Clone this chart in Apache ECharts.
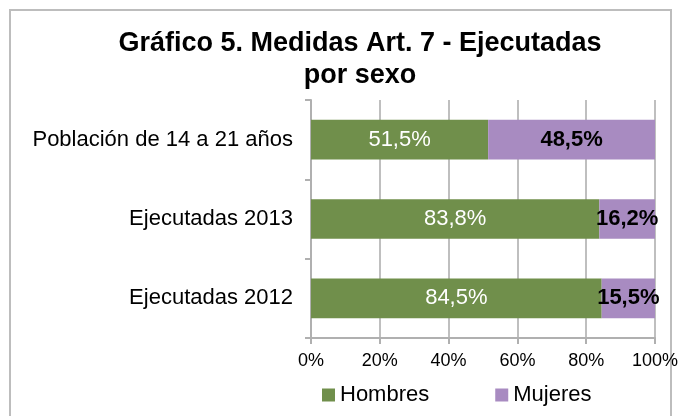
<!DOCTYPE html>
<html>
<head>
<meta charset="utf-8">
<script src="https://cdn.jsdelivr.net/npm/echarts@6/dist/echarts.min.js"></script>
<style>
  html, body { margin: 0; padding: 0; background: #fff; }
  #chart { width: 678px; height: 416px; }
</style>
</head>
<body>
<div id="chart"></div>
<script>
// datos
var categorias = ["Ejecutadas 2012", "Ejecutadas 2013", "Población de 14 a 21 años"];
var hombres = [84.5, 83.8, 51.5];
var mujeres = [15.5, 16.2, 48.5];
var ticksX = [0, 20, 40, 60, 80, 100];

var chart = echarts.init(document.getElementById("chart"));

function pct(p) {
  return p.value.toFixed(1).replace(".", ",") + "%";
}

var fuente = "Liberation Sans, Arial, sans-serif";

var option = {
  animation: false,
  backgroundColor: "#fff",
  graphic: [
    {
      type: "rect",
      shape: { x: 10, y: 10, width: 661, height: 430 },
      style: { fill: "none", stroke: "#bdbdbd", lineWidth: 2 }
    }
  ],
  title: {
    text: "Gráfico 5. Medidas Art. 7 - Ejecutadas\npor sexo",
    left: 355,
    top: 23,
    textAlign: "center",
    textStyle: {
      fontFamily: fuente,
      fontSize: 27,
      fontWeight: "bold",
      color: "#000",
      lineHeight: 32
    }
  },
  legend: {
    data: ["Hombres", "Mujeres"],
    left: 317,
    top: 379,
    itemWidth: 13,
    itemHeight: 13,
    itemGap: 66,
    icon: "rect",
    textStyle: { fontFamily: fuente, fontSize: 22, color: "#000" }
  },
  grid: { left: 311, right: 23, top: 100, bottom: 78, outerBoundsMode: "none", containLabel: false },
  xAxis: {
    type: "value",
    min: ticksX[0],
    max: ticksX[ticksX.length - 1],
    interval: 20,
    axisLine: { show: true, lineStyle: { color: "#b0b0b0", width: 2 } },
    axisTick: { show: true, length: 6, lineStyle: { color: "#b0b0b0", width: 2 } },
    splitLine: { show: true, lineStyle: { color: "#bfbfbf", width: 2 } },
    axisLabel: {
      formatter: "{value}%",
      fontFamily: fuente,
      fontSize: 18,
      color: "#000",
      margin: 14
    }
  },
  yAxis: {
    type: "category",
    data: categorias,
    axisLine: { show: true, lineStyle: { color: "#b0b0b0", width: 2 } },
    axisTick: { show: true, length: 6, lineStyle: { color: "#b0b0b0", width: 2 } },
    axisLabel: {
      fontFamily: fuente,
      fontSize: 22,
      color: "#000",
      margin: 18
    }
  },
  series: [
    {
      name: "Hombres",
      type: "bar",
      stack: "total",
      barWidth: "50%",
      data: hombres,
      itemStyle: { color: "#708f4b" },
      label: {
        show: true,
        position: "inside",
        formatter: pct,
        fontFamily: fuente,
        fontSize: 22,
        color: "#fff"
      }
    },
    {
      name: "Mujeres",
      type: "bar",
      stack: "total",
      barWidth: "50%",
      data: mujeres,
      itemStyle: { color: "#a88bc1" },
      label: {
        show: true,
        position: "inside",
        formatter: pct,
        fontFamily: fuente,
        fontSize: 22,
        fontWeight: "bold",
        color: "#000"
      }
    }
  ]
};

chart.setOption(option);
</script>
</body>
</html>
